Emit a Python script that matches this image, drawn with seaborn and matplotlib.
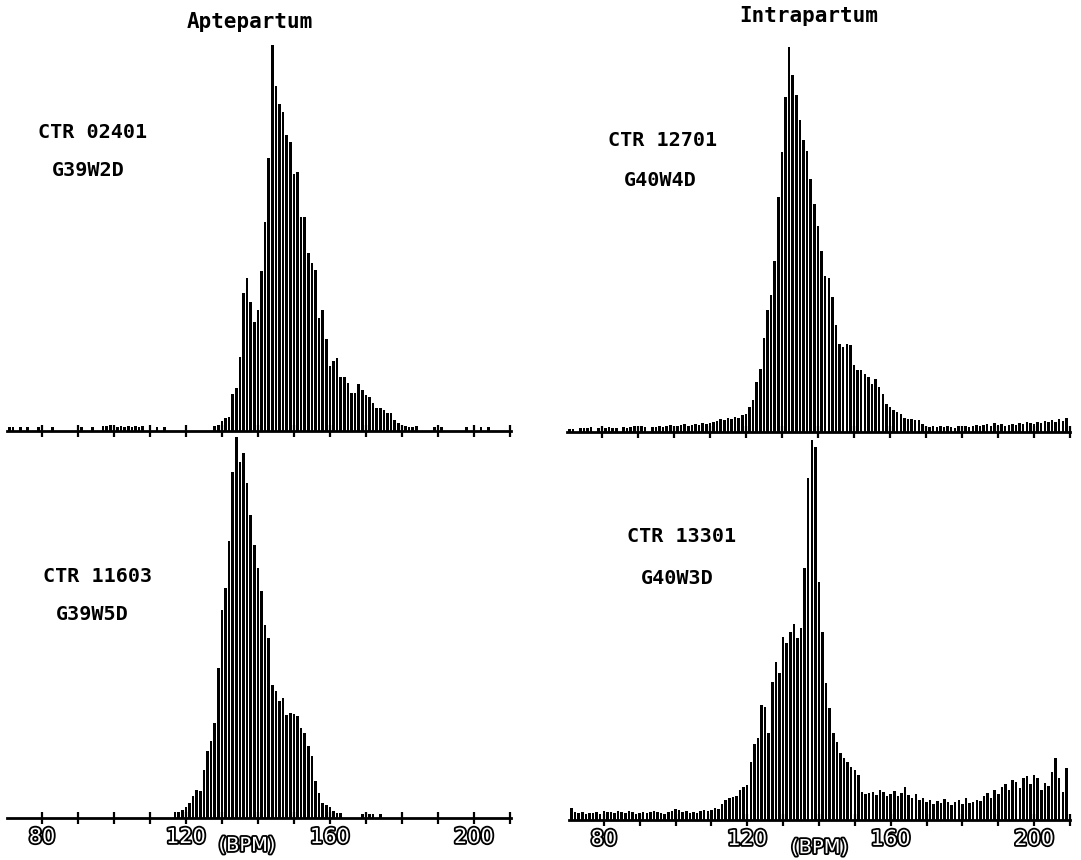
import matplotlib
matplotlib.use("Agg")
import matplotlib.pyplot as plt
import matplotlib.patheffects as pe
import seaborn as sns
import pandas as pd

# ---------------- data (bar heights, arbitrary units) ----------------
bpm = list(range(71, 210))

apte_02401 = [
    4, 4, 0, 4, 0, 4, 0, 0, 4, 0,
    0, 0, 4, 0, 0, 0, 0, 0, 0, 0,
    4, 0, 0, 4, 0, 0, 5, 5, 6, 5,
    4, 5, 4, 5, 4, 5, 4, 5, 0, 4,
    0, 4, 0, 4, 0, 0, 0, 0, 0, 4,
    0, 0, 0, 0, 0, 0, 0, 5, 6, 10,
    13, 14, 37, 43, 74, 138, 153, 129, 109, 121,
    160, 209, 273, 386, 345, 327, 319, 296, 289, 257,
    259, 214, 214, 178, 168, 161, 113, 121, 92, 65,
    70, 73, 54, 54, 48, 38, 38, 47, 41, 36,
    34, 28, 23, 23, 21, 18, 18, 11, 8, 6,
    5, 4, 4, 5, 0, 0, 0, 0, 4, 4,
    4, 0, 0, 0, 0, 0, 0, 4, 0, 4,
    0, 4, 0, 4, 0, 0, 0, 0, 0,
]

intra_12701 = [
    3, 3, 0, 4, 4, 4, 5, 0, 4, 5,
    4, 5, 4, 4, 0, 5, 4, 5, 6, 5,
    6, 5, 0, 5, 5, 6, 5, 6, 7, 6,
    6, 7, 8, 6, 7, 8, 7, 9, 8, 9,
    10, 11, 13, 12, 14, 13, 15, 14, 17, 18,
    25, 32, 50, 63, 94, 122, 137, 171, 235, 280,
    335, 385, 357, 337, 312, 292, 281, 253, 228, 206,
    181, 156, 154, 135, 107, 88, 85, 88, 87, 67,
    62, 62, 58, 55, 48, 53, 45, 38, 28, 25,
    22, 20, 18, 14, 13, 13, 12, 12, 8, 6,
    5, 6, 5, 6, 5, 6, 5, 4, 6, 5,
    6, 5, 6, 7, 6, 7, 8, 6, 9, 7,
    8, 6, 7, 8, 7, 9, 8, 10, 9, 8,
    10, 9, 11, 10, 12, 10, 13, 11, 14,
]

apte_11603 = [
    0, 0, 0, 0, 0, 0, 0, 0, 0, 0,
    0, 0, 0, 0, 0, 0, 0, 0, 0, 0,
    0, 0, 0, 0, 0, 0, 0, 0, 0, 0,
    0, 0, 0, 0, 0, 0, 0, 0, 0, 0,
    0, 0, 0, 0, 0, 0, 6, 6, 8, 11,
    15, 22, 28, 27, 48, 67, 77, 95, 150, 208,
    230, 277, 346, 381, 356, 365, 335, 303, 273, 250,
    227, 193, 180, 133, 127, 117, 120, 103, 105, 104,
    102, 90, 85, 72, 62, 37, 25, 15, 13, 11,
    7, 5, 5, 0, 0, 0, 0, 0, 4, 0,
    4, 4, 0, 4, 0, 0, 0, 0, 0, 5,
    0, 0, 0, 0, 0, 0, 0, 0, 0, 0,
    0, 0, 0, 0, 0, 0, 0, 0, 0, 0,
    0, 0, 0, 0, 0, 0, 0, 0, 0,
]

intra_13301 = [
    12, 8, 7, 8, 6, 7, 7, 8, 6, 9,
    8, 8, 7, 9, 8, 7, 9, 8, 6, 7,
    8, 7, 8, 9, 8, 7, 6, 8, 9, 11,
    10, 8, 9, 7, 8, 7, 9, 10, 9, 10,
    12, 11, 16, 20, 22, 23, 24, 30, 33, 35,
    58, 76, 82, 115, 113, 87, 138, 158, 147, 183,
    177, 188, 196, 182, 192, 252, 342, 380, 373, 238,
    188, 137, 112, 87, 78, 67, 62, 58, 53, 50,
    45, 28, 26, 27, 28, 25, 30, 28, 24, 26,
    29, 24, 27, 33, 25, 22, 26, 20, 22, 18,
    20, 16, 19, 17, 21, 18, 15, 18, 20, 16,
    22, 17, 18, 20, 19, 24, 27, 22, 30, 26,
    33, 36, 30, 40, 38, 32, 42, 44, 36, 45,
    42, 30, 37, 34, 48, 62, 42, 28, 52,
]

column_titles = ["Aptepartum", "Intrapartum"]
case_labels = [["CTR 02401", "G39W2D"], ["CTR 12701", "G40W4D"],
               ["CTR 11603", "G39W5D"], ["CTR 13301", "G40W3D"]]
tick_values = list(range(80, 211, 10))
tick_text = ["80", "", "", "", "120", "", "", "", "160", "", "", "", "200", ""]
axis_label = "(BPM)"

# ---------------- figure ----------------
W, H = 1081, 860
sns.set_theme(style="white")
plt.rcParams["font.family"] = ["DejaVu Sans"]
plt.rcParams["text.color"] = "black"
plt.rcParams["xtick.color"] = "black"
fig = plt.figure(figsize=(W / 100, H / 100), dpi=100)
fig.patch.set_facecolor("white")

# pixel boxes: left, right, bottom(axis line y), top ; x-range in BPM
panels = [
    dict(vals=apte_02401, box=(7, 511, 431, 40), xr=(70.3, 210.3), bottom=False),
    dict(vals=intra_12701, box=(567, 1070, 432, 40), xr=(70.3, 209.6), bottom=False),
    dict(vals=apte_11603, box=(7, 511, 818, 430), xr=(70.3, 210.3), bottom=True, lab_x=0.476),
    dict(vals=intra_13301, box=(569, 1070, 820, 430), xr=(70.3, 209.1), bottom=True, lab_x=0.50),
]

outline = [pe.withStroke(linewidth=2.6, foreground="black")]

for p in panels:
    l, r, b, t = p["box"]
    ax = fig.add_axes([l / W, 1 - b / H, (r - l) / W, (b - t) / H])
    ax.set_facecolor("none")
    df = pd.DataFrame({"bpm": bpm, "count": p["vals"]})
    sns.histplot(data=df, x="bpm", weights="count", discrete=True, shrink=0.7,
                 color="black", alpha=1.0, linewidth=0, edgecolor=None, ax=ax)
    ax.set_xlim(*p["xr"])
    ax.set_ylim(0, b - t)
    ax.set_yticks([])
    ax.set_ylabel("")
    sns.despine(ax=ax, left=True, top=True, right=True)
    ax.spines["bottom"].set_linewidth(2.0)
    ax.spines["bottom"].set_color("black")
    ax.set_xticks(tick_values)
    ax.tick_params(axis="x", direction="inout", length=9, width=1.6,
                   color="black", pad=2, bottom=True)
    if p["bottom"]:
        ax.set_xticklabels(tick_text, fontsize=15, color="white",
                           family="DejaVu Sans", path_effects=outline)
        ax.set_xlabel(axis_label, fontsize=14, color="white", va="center",
                      family="DejaVu Sans", path_effects=outline)
        ax.xaxis.set_label_coords(p["lab_x"], -0.071)
    else:
        ax.set_xticklabels([""] * len(tick_values))
        ax.set_xlabel("")

# column titles
mono = "DejaVu Sans Mono"
fig.text(250 / W, 1 - 22 / H, column_titles[0], ha="center", va="center",
         fontsize=15, fontweight="bold", family=mono, color="black")
fig.text(809 / W, 1 - 16 / H, column_titles[1], ha="center", va="center",
         fontsize=15, fontweight="bold", family=mono, color="black")

# case labels
label_pos = [((93, 132), (88, 171)), ((663, 141), (660, 181)),
             ((98, 577), (92, 614)), ((682, 537), (677, 578))]
for (l1, l2), ((x1, y1), (x2, y2)) in zip(case_labels, label_pos):
    fig.text(x1 / W, 1 - y1 / H, l1, ha="center", va="center",
             fontsize=14.5, fontweight="bold", family=mono, color="black")
    fig.text(x2 / W, 1 - y2 / H, l2, ha="center", va="center",
             fontsize=14.5, fontweight="bold", family=mono, color="black")

fig.savefig("out.png", dpi=100, facecolor="white")
